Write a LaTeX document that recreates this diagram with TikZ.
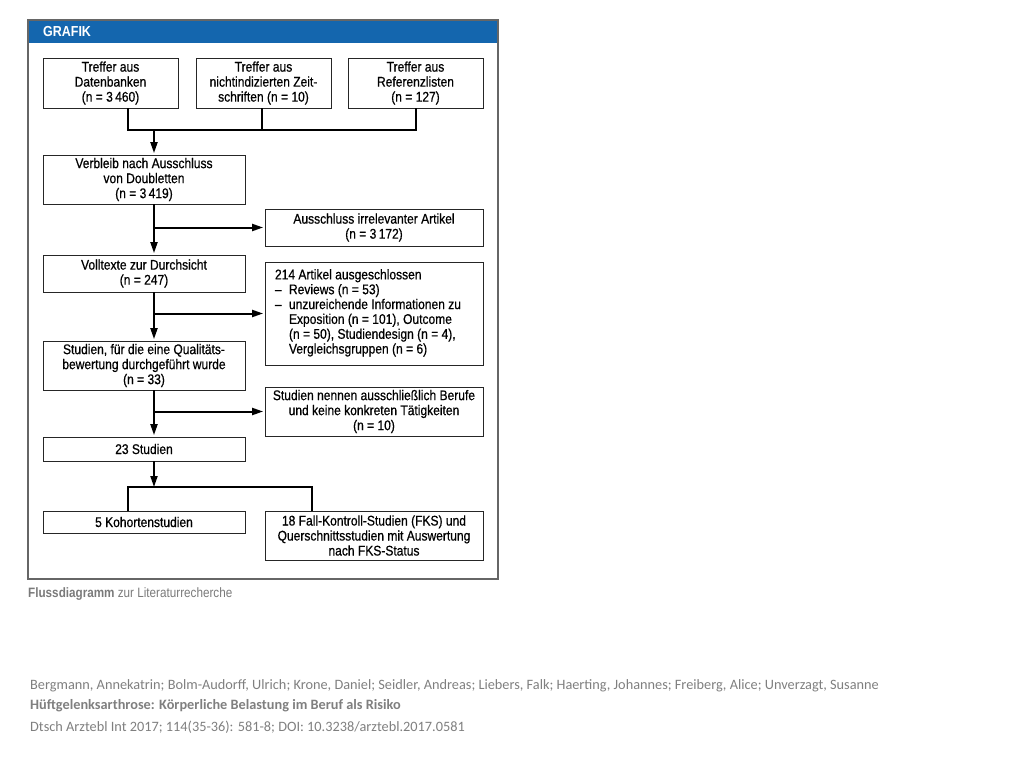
\documentclass[tikz,border=0pt]{standalone}
\usepackage{fontspec}
\setmainfont{Liberation Sans}
\newfontfamily\cond[FakeStretch=0.86,FakeBold=0.6]{Liberation Sans}
\newfontfamily\condcap[FakeStretch=0.86]{Liberation Sans}
\newfontfamily\calib{Carlito}
\usetikzlibrary{arrows.meta}
\definecolor{hdrblue}{HTML}{1466AE}
\definecolor{capgray}{HTML}{7A7A7A}
\definecolor{refgray}{HTML}{7F7F7F}
\tikzset{
  box/.style={draw=black!85, line width=0.8pt, fill=white, align=center, inner sep=0pt,
    font=\cond\fontsize{14}{15}\selectfont},
  conn/.style={line width=2pt, black, line join=miter},
  arr/.style={conn, -{Triangle[length=11pt,width=7pt]}, shorten >=1.5pt},
}
\begin{document}
\begin{tikzpicture}[x=1pt,y=-1pt]
\useasboundingbox (0,0) rectangle (1024,768);
% frame
\node[draw=black!60, line width=1.2pt, minimum width=470pt, minimum height=559pt, inner sep=0pt] (frame) at (263,299.5) {};
\fill[hdrblue] (28.6,20.6) rectangle (497.4,43);
\node[anchor=west, text=white, font=\condcap\fontsize{14.5}{16}\selectfont\bfseries, inner sep=0pt] (hdr) at (43,32) {GRAFIK};
% boxes
\node[box, minimum width=135pt, minimum height=50pt] (b1) at (110.5,83) {Treffer aus\\Datenbanken\\(n = 3\,460)};
\node[box, minimum width=135pt, minimum height=50pt] (b2) at (263.5,83) {Treffer aus\\nichtindizierten Zeit-\\schriften (n = 10)};
\node[box, minimum width=135pt, minimum height=50pt] (b3) at (415.5,83) {Treffer aus\\Referenzlisten\\(n = 127)};
\node[box, minimum width=202pt, minimum height=49pt] (b4) at (144,179.5) {Verbleib nach Ausschluss\\von Doubletten\\(n = 3\,419)};
\node[box, minimum width=218pt, minimum height=37pt] (s1) at (374,227.5) {Ausschluss irrelevanter Artikel\\(n = 3\,172)};
\node[box, minimum width=202pt, minimum height=37pt] (b5) at (144,273.5) {Volltexte zur Durchsicht\\(n = 247)};
\node[box, minimum width=218pt, minimum height=103pt] (s2) at (374,313.5) {\makebox[198pt][l]{\raisebox{-2.5pt}{\renewcommand{\arraystretch}{0.99}%
\begin{tabular}{@{}l@{}}
214 Artikel ausgeschlossen\\
\makebox[14pt][l]{–}Reviews (n = 53)\\
\makebox[14pt][l]{–}unzureichende Informationen zu\\
\hspace*{14pt}Exposition (n = 101), Outcome\\
\hspace*{14pt}(n = 50), Studiendesign (n = 4),\\
\hspace*{14pt}Vergleichsgruppen (n = 6)
\end{tabular}}}};
\node[box, minimum width=202pt, minimum height=49pt] (b6) at (144,365.5) {Studien, für die eine Qualitäts-\\bewertung durchgeführt wurde\\(n = 33)};
\node[box, minimum width=218pt, minimum height=49pt] (s3) at (374,411.5) {Studien nennen ausschließlich Berufe\\und keine konkreten Tätigkeiten\\(n = 10)};
\node[box, minimum width=202pt, minimum height=24pt] (b7) at (144,449) {23 Studien};
\node[box, minimum width=202pt, minimum height=22pt] (b8) at (144,522) {5 Kohortenstudien};
\node[box, minimum width=218pt, minimum height=49pt] (b9) at (374,535.5) {18 Fall-Kontroll-Studien (FKS) und\\Querschnittsstudien mit Auswertung\\nach FKS-Status};
% junction coordinates
\coordinate (j1) at (154,130);
\coordinate (k1) at (128,130);
\coordinate (k2) at (262,130);
\coordinate (k3) at (416,130);
\coordinate (m1) at (128,487);
\coordinate (m2) at (312,487);
\coordinate (j2) at (154,487);
% connectors
\draw[conn] (k1 |- b1.south) -- (k1) -- (k3) -- (k3 |- b3.south);
\draw[conn] (k2 |- b2.south) -- (k2);
\draw[arr] (j1) -- (j1 |- b4.north);
\draw[arr] (j1 |- b4.south) -- (j1 |- b5.north);
\draw[arr] (j1 |- s1.west) -- (s1.west);
\draw[arr] (j1 |- b5.south) -- (j1 |- b6.north);
\draw[arr] (j1 |- s2.west) -- (s2.west);
\draw[arr] (j1 |- b6.south) -- (j1 |- b7.north);
\draw[arr] (j1 |- s3.west) -- (s3.west);
\draw[arr, shorten >=0pt] (j1 |- b7.south) -- (j2);
\draw[conn] (m1 |- b8.north) -- (m1) -- (m2) -- (m2 |- b9.north);
% caption
\node[anchor=west, inner sep=0pt, text=capgray, font=\condcap\fontsize{13.6}{15}\selectfont] (cap) at (28,594) {\textbf{Flussdiagramm} zur Literaturrecherche};
% reference
\node[anchor=west, inner sep=0pt, text=refgray, font=\calib\fontsize{14.3}{16}\selectfont] (r1) at (30,686) {Bergmann, Annekatrin; Bolm-Audorff, Ulrich; Krone, Daniel; Seidler, Andreas; Liebers, Falk; Haerting, Johannes; Freiberg, Alice; Unverzagt, Susanne};
\node[anchor=west, inner sep=0pt, text=refgray, font=\calib\fontsize{14.3}{16}\selectfont\bfseries] (r2) at (30,706) {Hüftgelenksarthrose: Körperliche Belastung im Beruf als Risiko};
\node[anchor=west, inner sep=0pt, text=refgray, font=\calib\fontsize{14.3}{16}\selectfont] (r3) at (30,727) {Dtsch Arztebl Int 2017; 114(35-36): 581-8; DOI: 10.3238/arztebl.2017.0581};
\end{tikzpicture}
\end{document}
